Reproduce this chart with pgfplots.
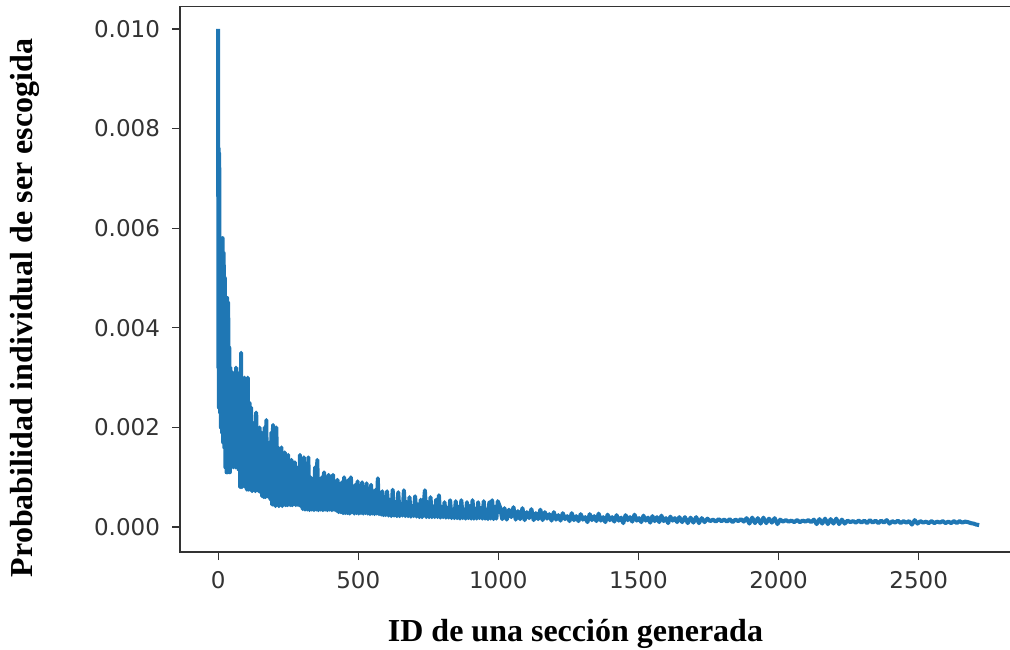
\documentclass[border=0pt]{standalone}
\usepackage{pgfplots}
\pgfplotsset{compat=1.18}
\usepackage{fontspec}
\setmainfont{Liberation Serif}
\newfontfamily\dejavu{DejaVu Sans}
\definecolor{mplblue}{HTML}{1F77B4}
\pgfplotstableread{
x y
0 10.0
1 3.2
2 7.6
3 2.4
4 7.5
5 3.0
6 5.6
7 2.3
8 5.8
10 2.0
12 5.7
14 1.9
16 5.8
18 1.7
20 5.5
22 1.6
24 5.0
26 1.2
28 4.6
30 1.1
32 4.6
34 1.1
36 4.5
38 1.2
40 3.6
42 1.1
44 3.2
46 1.2
48 3.0
50 1.3
52 3.1
54 1.2
56 2.9
58 1.3
60 3.1
62 1.2
64 3.2
67 1.2
70 2.8
73 1.15
76 3.1
79 0.8
82 3.5
85 0.8
88 2.7
91 0.85
94 3.0
97 0.8
100 2.6
103 0.75
106 3.0
109 0.75
112 2.5
115 0.75
118 2.4
121 0.72
124 1.9
127 0.75
130 2.1
133 0.72
136 2.3
139 0.75
142 1.7
145 0.72
148 2.0
151 0.7
154 1.9
157 0.62
160 1.8
163 0.6
166 2.0
169 0.6
172 2.15
175 0.62
178 1.7
181 0.6
184 1.5
187 0.55
190 1.9
193 0.45
196 2.05
199 0.45
202 1.7
205 0.42
208 2.0
211 0.45
214 1.6
217 0.42
220 1.4
223 0.45
226 1.6
229 0.42
232 1.3
235 0.45
238 1.5
241 0.44
244 1.2
247 0.44
250 1.45
253 0.45
256 1.1
259 0.44
262 1.35
265 0.44
268 1.0
271 0.46
274 1.3
277 0.44
280 1.2
283 0.45
286 0.95
289 0.44
292 1.45
295 0.42
298 1.1
302 0.36
306 1.4
310 0.35
314 0.9
318 0.35
322 1.4
326 0.34
330 1.0
334 0.35
338 0.85
342 0.34
346 1.2
350 0.35
354 1.35
358 0.34
362 0.8
366 0.35
370 1.0
374 0.34
378 1.1
382 0.35
386 0.75
390 0.34
394 1.05
398 0.35
402 0.8
406 0.34
410 1.05
414 0.35
418 0.7
422 0.33
426 0.95
430 0.3
434 0.7
438 0.3
442 0.9
446 0.28
450 1.0
454 0.28
458 0.7
462 0.28
466 0.95
470 0.27
474 1.0
478 0.3
482 0.75
486 0.27
490 0.85
494 0.28
498 0.92
502 0.27
506 0.65
510 0.28
514 0.9
518 0.27
522 0.6
526 0.28
530 0.88
534 0.27
538 0.55
542 0.26
546 0.85
550 0.27
554 0.6
558 0.26
562 0.75
566 0.27
570 0.98
574 0.26
578 0.6
582 0.25
586 0.72
590 0.24
594 0.55
598 0.24
603 0.72
608 0.23
613 0.55
618 0.22
623 0.75
628 0.23
633 0.5
638 0.22
643 0.7
648 0.22
653 0.45
658 0.23
663 0.74
668 0.22
673 0.5
678 0.22
683 0.6
688 0.21
693 0.42
698 0.22
703 0.62
708 0.21
713 0.45
718 0.2
723 0.55
728 0.2
733 0.4
738 0.74
743 0.2
748 0.5
753 0.2
758 0.6
763 0.2
768 0.4
773 0.2
778 0.55
783 0.2
788 0.64
793 0.19
798 0.4
803 0.2
808 0.5
813 0.19
818 0.38
823 0.19
828 0.54
833 0.18
838 0.35
843 0.18
848 0.52
853 0.18
858 0.4
863 0.17
868 0.54
873 0.18
878 0.35
883 0.17
888 0.5
893 0.18
898 0.42
903 0.17
908 0.54
913 0.17
918 0.36
923 0.17
928 0.5
933 0.18
938 0.38
943 0.17
948 0.52
953 0.17
958 0.34
963 0.16
968 0.5
973 0.17
978 0.54
983 0.16
988 0.4
993 0.17
998 0.52
1006 0.4
1014 0.16
1022 0.38
1030 0.15
1038 0.35
1046 0.2
1054 0.4
1062 0.15
1070 0.32
1078 0.16
1086 0.38
1094 0.14
1102 0.3
1110 0.18
1118 0.36
1126 0.14
1134 0.28
1142 0.16
1150 0.35
1158 0.14
1166 0.3
1174 0.17
1182 0.26
1190 0.13
1198 0.3
1206 0.15
1214 0.24
1222 0.13
1230 0.28
1238 0.16
1246 0.22
1254 0.12
1262 0.28
1270 0.14
1278 0.22
1286 0.12
1294 0.26
1302 0.15
1310 0.2
1318 0.1
1326 0.26
1334 0.14
1342 0.22
1350 0.12
1358 0.27
1366 0.13
1374 0.2
1382 0.1
1390 0.25
1398 0.14
1406 0.2
1414 0.11
1422 0.24
1430 0.13
1438 0.19
1446 0.08
1454 0.24
1462 0.14
1470 0.2
1478 0.11
1486 0.25
1494 0.13
1502 0.18
1510 0.1
1518 0.23
1526 0.13
1534 0.19
1542 0.09
1550 0.22
1558 0.12
1566 0.2
1574 0.1
1582 0.23
1590 0.12
1598 0.18
1606 0.08
1614 0.21
1622 0.13
1630 0.18
1638 0.1
1646 0.2
1656 0.1
1666 0.2
1676 0.08
1686 0.19
1696 0.09
1706 0.2
1716 0.08
1726 0.18
1736 0.1
1746 0.17
1756 0.12
1766 0.15
1776 0.11
1786 0.16
1796 0.12
1806 0.15
1816 0.11
1826 0.16
1836 0.1
1846 0.15
1856 0.12
1866 0.16
1876 0.11
1886 0.18
1896 0.07
1906 0.19
1916 0.08
1926 0.18
1936 0.07
1946 0.19
1956 0.08
1966 0.17
1976 0.09
1986 0.18
1996 0.06
2006 0.15
2016 0.11
2026 0.14
2036 0.11
2046 0.13
2056 0.1
2066 0.14
2076 0.1
2086 0.13
2096 0.11
2106 0.14
2116 0.1
2126 0.15
2136 0.06
2146 0.16
2156 0.07
2166 0.17
2176 0.06
2186 0.16
2196 0.07
2206 0.17
2216 0.06
2226 0.15
2236 0.07
2246 0.13
2256 0.1
2266 0.12
2276 0.09
2286 0.13
2296 0.09
2306 0.13
2316 0.08
2326 0.14
2336 0.09
2346 0.13
2356 0.08
2366 0.13
2376 0.09
2386 0.14
2396 0.07
2406 0.12
2416 0.09
2426 0.13
2436 0.08
2446 0.12
2456 0.09
2466 0.12
2476 0.05
2486 0.14
2496 0.07
2506 0.12
2516 0.09
2526 0.11
2536 0.08
2546 0.12
2556 0.08
2566 0.11
2576 0.09
2586 0.12
2596 0.08
2606 0.11
2616 0.08
2626 0.12
2636 0.08
2646 0.12
2656 0.09
2666 0.11
2676 0.1
2686 0.08
2696 0.07
2706 0.05
2716 0.04
}\datatable
\begin{document}
\begin{tikzpicture}[x=1pt,y=1pt]
\useasboundingbox (-90,-48.5) rectangle (415,276);
\begin{axis}[
  at={(0,0)}, anchor=south west, scale only axis,
  width=419.2pt, height=272.75pt,
  xmin=-136, xmax=2856, ymin=-0.5, ymax=10.45,
  xtick={0,500,1000,1500,2000,2500},
  ytick={0,2,4,6,8,10},
  yticklabels={0.000,0.002,0.004,0.006,0.008,0.010},
  xticklabel style={/pgf/number format/set thousands separator={}, yshift=-2pt},
  yticklabel style={xshift=-2.5pt},
  /pgf/number format/assume math mode=true,
  tick align=outside, tick pos=left,
  major tick length=4pt,
  tick style={black!80, line width=0.6pt},
  axis line style={draw=none},
  tick label style={font=\dejavu\fontsize{11.5}{13}\selectfont, text=black!80},
  clip=false,
]
\draw[black!80, line width=0.8pt] (rel axis cs:1.05,1) -- (rel axis cs:0,1) -- (rel axis cs:0,0) -- (rel axis cs:1.05,0);
\addplot[mplblue, line width=2pt, line join=round] table[x=x,y=y] {\datatable};
\end{axis}
\node[anchor=base, font=\bfseries\fontsize{16}{19}\selectfont] at (197.75,-44.5) {ID de una sección generada};
\node[rotate=90, anchor=base, font=\bfseries\fontsize{16}{19}\selectfont] at (-73.5,122) {Probabilidad individual de ser escogida};
\end{tikzpicture}
\end{document}
